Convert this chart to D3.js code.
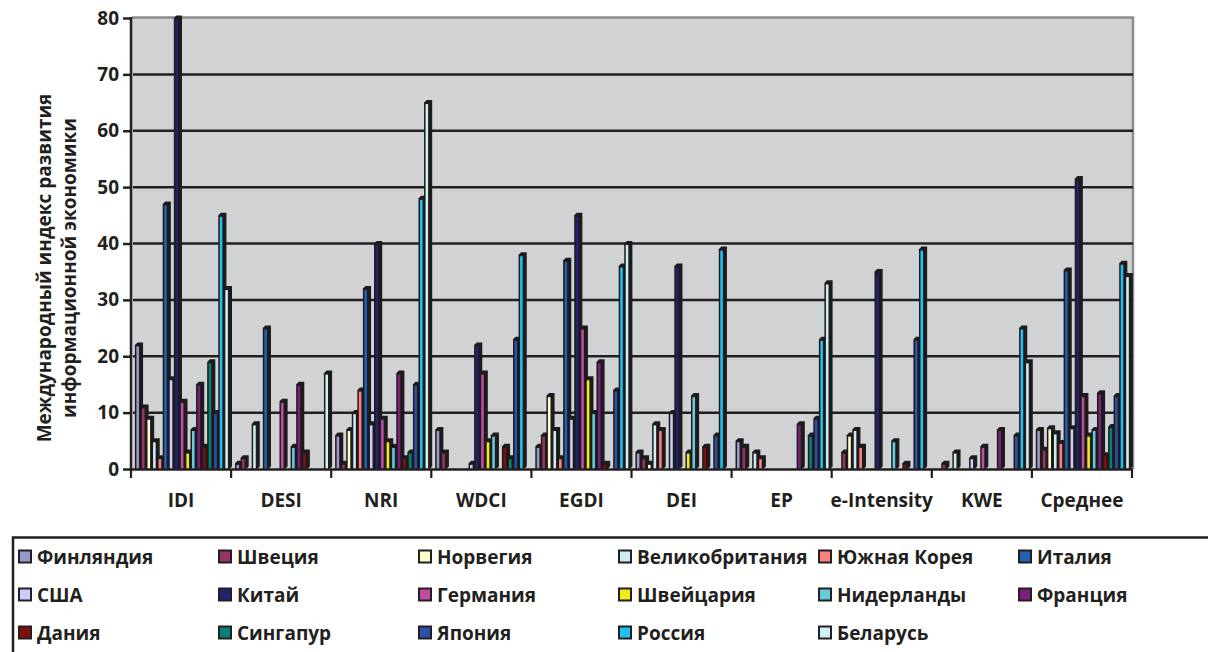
<!DOCTYPE html>
<html>
<head>
<meta charset="utf-8">
<script src="https://cdn.jsdelivr.net/npm/d3@7"></script>
<style>
  body { margin: 0; background: #fff; }
  text { font-family: "Open Sans", sans-serif; font-weight: 700; fill: #231f20; }
</style>
</head>
<body>
<svg id="chart" width="1208" height="652"></svg>
<script>
// categories (x axis)
const categories = ["IDI", "DESI", "NRI", "WDCI", "EGDI", "DEI", "EP", "e-Intensity", "KWE", "Среднее"];

// countries (series), legend order
const countries = ["Финляндия", "Швеция", "Норвегия", "Великобритания", "Южная Корея", "Италия",
  "США", "Китай", "Германия", "Швейцария", "Нидерланды", "Франция",
  "Дания", "Сингапур", "Япония", "Россия", "Беларусь"];

const colors = ["#9999cc", "#993366", "#ffffcc", "#ccecf2", "#ff8080", "#2262b0",
  "#ccccff", "#22226e", "#c04ca8", "#f2ea1a", "#66ccdc", "#7a1f7e",
  "#7e1010", "#08807a", "#2d50a8", "#22c0ee", "#cdf0f4"];

// values per country, in category order
const finland   = [22, 1, 6, 7, 4, 3, 5, 0, 0, 7];
const sweden    = [11, 2, 1, 3, 6, 2, 4, 3, 1, 3.5];
const norway    = [9, 0, 7, 0, 13, 1, 0, 6, 0, 7.3];
const uk        = [5, 8, 10, 0, 7, 8, 3, 7, 3, 6.4];
const korea     = [2, 0, 14, 0, 2, 7, 2, 4, 0, 4.7];
const italy     = [47, 25, 32, 0, 37, 0, 0, 0, 0, 35.3];
const usa       = [16, 0, 8, 1, 9, 10, 0, 0, 2, 7.3];
const china     = [80, 0, 40, 22, 45, 36, 0, 35, 0, 51.5];
const germany   = [12, 12, 9, 17, 25, 0, 0, 0, 4, 13];
const swiss     = [3, 0, 5, 5, 16, 3, 0, 0, 0, 6];
const nether    = [7, 4, 4, 6, 10, 13, 0, 5, 0, 7];
const france    = [15, 15, 17, 0, 19, 0, 8, 0, 7, 13.5];
const denmark   = [4, 3, 2, 4, 1, 4, 0, 1, 0, 2.5];
const singapore = [19, 0, 3, 2, 0, 0, 6, 0, 0, 7.5];
const japan     = [10, 0, 15, 23, 14, 6, 9, 23, 6, 13];
const russia    = [45, 0, 48, 38, 36, 39, 23, 39, 25, 36.5];
const belarus   = [32, 17, 65, 0, 40, 0, 33, 0, 19, 34.3];

const values = [finland, sweden, norway, uk, korea, italy, usa, china, germany, swiss,
  nether, france, denmark, singapore, japan, russia, belarus];

const yTicks = [0, 10, 20, 30, 40, 50, 60, 70, 80];
const yTitle = ["Международный индекс развития", "информационной экономики"];

const svg = d3.select("#chart");

const pLeft = 131, pRight = 1133, pTop = 17, pBottom = 469;

const y = d3.scaleLinear().domain([0, 80]).range([pBottom, 18]);
const x0 = d3.scaleBand().domain(categories).range([pLeft, 1132]);
const x1 = d3.scaleBand().domain(countries).range([3.9, 98.4]);

// back wall
svg.append("rect")
  .attr("x", pLeft + 1).attr("y", pTop)
  .attr("width", pRight - pLeft - 1).attr("height", pBottom - pTop)
  .attr("fill", "#d1d2d4");
svg.append("path")
  .attr("d", `M${pLeft + 1},${pTop + 0.5}H${pRight}V${pBottom}`)
  .attr("fill", "none").attr("stroke", "#8c8c8e").attr("stroke-width", 2.5);

// gridlines
svg.selectAll(".grid")
  .data(yTicks.filter(d => d > 0 && d < 80))
  .enter().append("line")
  .attr("x1", pLeft + 2).attr("x2", pRight)
  .attr("y1", d => y(d)).attr("y2", d => y(d))
  .attr("stroke", "#231f20").attr("stroke-width", 2.5);

// bars (3D look: black extruded body + coloured front stripe)
const bw = x1.bandwidth();
const dx = 2.6, dy = 2.6;
const bars = [];
categories.forEach((c, ci) => {
  countries.forEach((s, si) => {
    const v = values[si][ci];
    if (v > 0) bars.push({ cat: c, country: s, value: v, color: colors[si] });
  });
});

const g = svg.append("g");
bars.forEach(d => {
  const L = x0(d.cat) + x1(d.country);
  const R = L + bw;
  const yt = y(d.value);
  g.append("path")
    .attr("d", `M${L},${pBottom}V${yt}L${L + dx},${yt - dy}H${R + dx}V${pBottom - dy}L${R},${pBottom}Z`)
    .attr("fill", "#1e1b1c");
  g.append("rect")
    .attr("x", L + 1.5).attr("y", yt + 1.5)
    .attr("width", bw - 3).attr("height", Math.max(0, pBottom - yt - 1.5))
    .attr("fill", d.color);
});

// y axis
const yAxis = d3.axisLeft(y).tickValues(yTicks).tickSize(8).tickPadding(4);
const ya = svg.append("g").attr("transform", `translate(${pLeft},0)`).call(yAxis);
ya.select(".domain").remove();
ya.selectAll(".tick line").attr("stroke", "#231f20").attr("stroke-width", 2.5);
ya.selectAll(".tick text").attr("font-size", 19).attr("font-family", "Open Sans").attr("font-weight", 700).attr("fill", "#231f20");
svg.append("line")
  .attr("x1", pLeft).attr("x2", pLeft).attr("y1", pTop).attr("y2", pBottom + 2)
  .attr("stroke", "#231f20").attr("stroke-width", 2.5);

// x axis
svg.append("line")
  .attr("x1", pLeft).attr("x2", pRight).attr("y1", pBottom + 0.5).attr("y2", pBottom + 0.5)
  .attr("stroke", "#231f20").attr("stroke-width", 2.5);
const xTicks = categories.map(c => x0(c)).concat([x0.range()[1]]);
svg.selectAll(".xtick")
  .data(xTicks)
  .enter().append("line")
  .attr("x1", d => d).attr("x2", d => d)
  .attr("y1", pBottom).attr("y2", pBottom + 9)
  .attr("stroke", "#231f20").attr("stroke-width", 2.2);
svg.selectAll(".xlabel")
  .data(categories)
  .enter().append("text")
  .attr("x", d => x0(d) + x0.bandwidth() / 2)
  .attr("y", 507)
  .attr("text-anchor", "middle")
  .attr("font-size", 19)
  .text(d => d);

// y title
yTitle.forEach((t, i) => {
  svg.append("text")
    .attr("transform", `translate(${51 + i * 25},${268}) rotate(-90)`)
    .attr("text-anchor", "middle")
    .attr("font-size", 19)
    .text(t);
});

// legend
svg.append("path")
  .attr("d", "M13,660V537.5H1210")
  .attr("fill", "none").attr("stroke", "#231f20").attr("stroke-width", 2.5);
const lg = svg.selectAll(".legend")
  .data(countries)
  .enter().append("g")
  .attr("transform", (d, i) => `translate(${19 + (i % 6) * 200},${557 + Math.floor(i / 6) * 38})`);
lg.append("rect")
  .attr("x", 0).attr("y", -6.5).attr("width", 12).attr("height", 12)
  .attr("fill", (d, i) => colors[i]).attr("stroke", "#231f20").attr("stroke-width", 2);
lg.append("text")
  .attr("x", 18).attr("y", 7)
  .attr("font-size", 19)
  .text(d => d);
</script>
</body>
</html>
